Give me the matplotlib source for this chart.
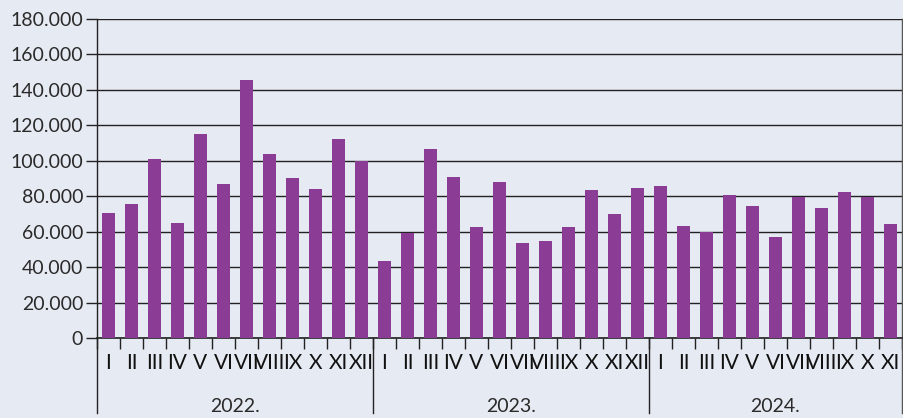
import numpy as np
import matplotlib.pyplot as plt

months = ["I", "II", "III", "IV", "V", "VI", "VII", "VIII", "IX", "X", "XI", "XII"]
years = ["2022.", "2023.", "2024."]
v2022 = [70.5, 75.4, 100.8, 64.9, 115.3, 86.9, 145.4, 103.8, 90.3, 84.1, 112.3, 99.9]
v2023 = [43.5, 59.4, 106.8, 90.9, 62.5, 88.0, 53.4, 54.6, 62.5, 83.7, 69.8, 84.5]
v2024 = [85.6, 63.0, 59.6, 80.9, 74.7, 57.2, 79.6, 73.2, 82.4, 79.6, 64.2]

values = np.array(v2022 + v2023 + v2024) * 1000
labels = months + months + months[:len(v2024)]
counts = [len(v2022), len(v2023), len(v2024)]

bg = "#e6eaf2"
bar_color = "#8b3d96"
line_color = "#222222"

plt.rcParams["font.family"] = ["Lato", "DejaVu Sans"]

fig = plt.figure(figsize=(9.04, 4.18), dpi=100, facecolor=bg)
ax = fig.add_axes([97 / 904, 80 / 418, 805 / 904, 319 / 418], facecolor=bg)

x = np.arange(len(values))
ax.bar(x, values, width=0.54, color=bar_color, zorder=3)

ax.set_xlim(-0.5, len(values) - 0.5)
ax.set_ylim(0, 180000)
ax.set_yticks(np.arange(0, 180001, 20000))
ax.set_yticklabels(["0"] + [f"{v // 1000}.000" for v in range(20000, 180001, 20000)])
ax.yaxis.grid(True, color=line_color, linewidth=1.0, zorder=1)
ax.tick_params(axis="y", length=8, width=1.0, color=line_color, labelsize=14,
               labelcolor="#2a2a2a", pad=2)

ax.set_xticks(x)
ax.set_xticklabels(labels)
ax.tick_params(axis="x", length=0, labelsize=15, labelcolor="#111111", pad=11)
ax.set_xticks(np.arange(-0.5, len(values), 1), minor=True)
ax.tick_params(axis="x", which="minor", length=8, width=1.0, color=line_color)

for s in ["top", "right"]:
    ax.spines[s].set_visible(False)
ax.spines["left"].set_color(line_color)
ax.spines["bottom"].set_color(line_color)
ax.spines["left"].set_linewidth(1.0)
ax.spines["bottom"].set_linewidth(1.2)

# year separators and year labels
trans = ax.get_xaxis_transform()
start = 0
bottom = -75 / 319
for n, yr in zip(counts, years):
    ax.plot([start - 0.5, start - 0.5], [0, bottom], transform=trans,
            color=line_color, linewidth=1.0, clip_on=False)
    ax.text(start + (n - 1) / 2, -68 / 319, yr, transform=trans, ha="center",
            va="center", fontsize=14, color="#2a2a2a")
    start += n
ax.plot([start - 0.5, start - 0.5], [1, bottom], transform=trans,
        color="#555555", linewidth=1.0, clip_on=False)

fig.savefig("out.png", dpi=100, facecolor=bg)
